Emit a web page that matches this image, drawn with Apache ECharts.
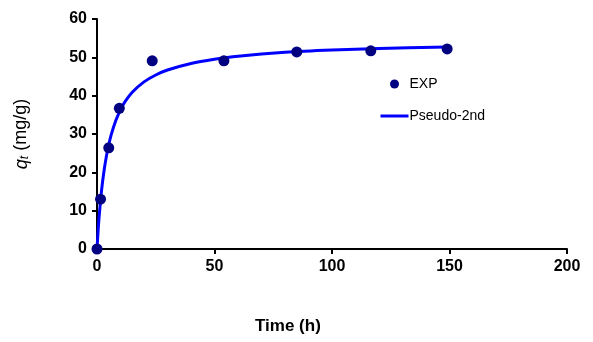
<!DOCTYPE html>
<html>
<head>
<meta charset="utf-8">
<script src="https://cdn.jsdelivr.net/npm/echarts@6/dist/echarts.min.js"></script>
<style>
  html, body { margin: 0; padding: 0; background: #fff; }
  #root { width: 593px; height: 342px; }
</style>
</head>
<body>
<div id="root"></div>
<script>
// measured points (time h, qt mg/g)
var expTime = [0, 1.5, 5, 9.5, 23.5, 54, 85, 116.5, 149];
var expQt = [0, 13, 26.4, 36.7, 49.1, 49.1, 51.4, 51.7, 52.2];

// fitted curve
var fitTime = [0, 0.5, 1, 2, 3, 4, 5, 6, 8, 10, 12, 15, 20, 25, 30, 40, 50, 60, 80, 100, 120, 149];
var fitQt = [0, 5, 9.1, 15.6, 20.4, 24.2, 27.2, 29.7, 33.5, 36.3, 38.5, 40.9, 43.6, 45.4, 46.7, 48.4, 49.5, 50.3, 51.3, 51.9, 52.3, 52.7];

var xTicks = [0, 50, 100, 150, 200];
var yTicks = [0, 10, 20, 30, 40, 50, 60];

var root = document.getElementById('root');
var myChart = echarts.init(root);

var font = 'Arial, "Liberation Sans", sans-serif';

var option = {
    animation: false,
    textStyle: { fontFamily: font },
    grid: { left: 97, right: 26, top: 19, bottom: 93, containLabel: false },
    legend: {
        orient: 'vertical',
        left: 374,
        top: 72,
        itemWidth: 28,
        itemHeight: 9,
        itemGap: 18,
        textStyle: { fontSize: 14, color: '#000', fontFamily: font, padding: [0, 0, 0, -4] },
        data: [
            { name: 'EXP', icon: 'circle', itemStyle: { color: '#000080' } },
            { name: 'Pseudo-2nd', itemStyle: { opacity: 0 }, lineStyle: { color: '#0000ff', width: 3 } }
        ]
    },
    xAxis: {
        type: 'value',
        min: xTicks[0],
        max: xTicks[xTicks.length - 1],
        interval: 50,
        splitLine: { show: false },
        axisLine: { onZero: false, lineStyle: { color: '#000', width: 2 } },
        axisTick: { inside: false, length: 5, lineStyle: { color: '#000', width: 2 } },
        axisLabel: { color: '#000', fontWeight: 'bold', fontSize: 16, margin: 10, fontFamily: font }
    },
    yAxis: {
        type: 'value',
        min: yTicks[0],
        max: yTicks[yTicks.length - 1],
        interval: 10,
        splitLine: { show: false },
        axisLine: { show: true, onZero: false, lineStyle: { color: '#000', width: 2 } },
        axisTick: { show: true, length: 5, lineStyle: { color: '#000', width: 2 } },
        axisLabel: { color: '#000', fontWeight: 'bold', fontSize: 16, margin: 10, fontFamily: font },
        name: '{q|q}{t|t}{n| (mg/g)}',
        nameLocation: 'middle',
        nameGap: 66,
        nameRotate: 90,
        nameTextStyle: {
            rich: {
                q: { fontStyle: 'italic', fontSize: 18, color: '#000', fontFamily: font },
                t: { fontStyle: 'italic', fontSize: 12, color: '#000', verticalAlign: 'bottom', padding: [7, 0, 0, 0], fontFamily: font },
                n: { fontSize: 18, color: '#000', fontFamily: font }
            }
        }
    },
    graphic: [
        {
            type: 'text',
            left: 255,
            top: 318,
            style: { text: 'Time (h)', font: 'bold 17px ' + font, fill: '#000' }
        }
    ],
    series: [
        {
            name: 'Pseudo-2nd',
            type: 'line',
            smooth: 0.3,
            showSymbol: false,
            symbol: 'none',
            lineStyle: { color: '#0000ff', width: 3 },
            itemStyle: { color: '#0000ff' },
            data: fitTime.map(function (t, i) { return [t, fitQt[i]]; }),
            z: 3
        },
        {
            name: 'EXP',
            type: 'scatter',
            symbolSize: 11,
            itemStyle: { color: '#000080', opacity: 1 },
            data: expTime.map(function (t, i) { return [t, expQt[i]]; }),
            z: 4
        }
    ]
};
myChart.setOption(option);
</script>
</body>
</html>
